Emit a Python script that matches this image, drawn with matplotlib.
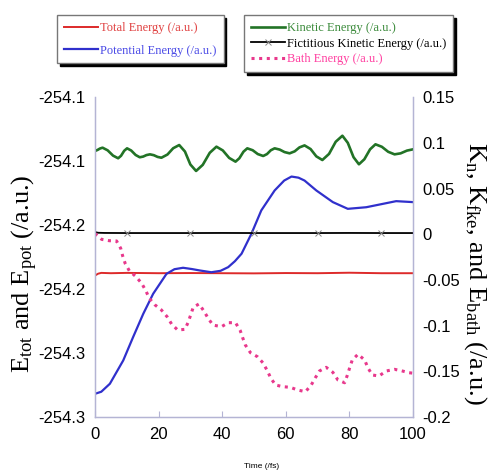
import matplotlib
matplotlib.use('Agg')
import matplotlib.pyplot as plt

plt.rcParams['font.family'] = ['Liberation Sans', 'DejaVu Sans']
plt.rcParams['axes.unicode_minus'] = False
plt.rcParams['mathtext.default'] = 'regular'

# total energy (left axis)
tot_t = [0, 1, 2, 5, 10, 20, 30, 40, 50, 60, 70, 80, 90, 100]
tot_v = [-254.2115, -254.2103, -254.2098, -254.2100, -254.2098, -254.2100, -254.2099,
         -254.2100, -254.2101, -254.2099, -254.2100, -254.2097, -254.2100, -254.2100]

# potential energy (left axis)
pot_t = [0, 2, 4.7, 8.9, 12.0, 15.2, 18.3, 22.5, 25, 27.7, 30.5, 33.0, 36.6, 39.5, 41.9,
         44, 46.1, 49.2, 52.3, 56.5, 59.5, 61.8, 64, 65.9, 69.6, 74.8, 79.5, 85.3, 90, 94.7, 100]
pot_v = [-254.2855, -254.2842, -254.2792, -254.2646, -254.2500, -254.2354, -254.2229,
         -254.2104, -254.2075, -254.2066, -254.2074, -254.2083, -254.2094, -254.2085,
         -254.2062, -254.2025, -254.1978, -254.1853, -254.1707, -254.1582, -254.1520,
         -254.1495, -254.1502, -254.1520, -254.1582, -254.1655, -254.1697, -254.1687,
         -254.1668, -254.1649, -254.1655]

# kinetic energy (right axis)
kin_t = [0, 0.8, 1.6, 2.4, 4.0, 5.7, 7.3, 8.2, 9.2, 10.1, 11.4, 12.8, 14.1, 15.2, 16.2,
         17.3, 18.5, 19.7, 20.9, 22.8, 24.6, 26.5, 28.3, 30.0, 31.8, 33.9, 36.1, 38.2,
         40.2, 42.2, 44.2, 45.4, 46.7, 47.9, 49.6, 51.2, 52.9, 54.1, 55.3, 56.5, 58.1,
         59.6, 61.2, 62.8, 64.3, 65.9, 67.8, 69.6, 71.5, 73.6, 75.7, 77.8, 79.5, 81.3,
         83.0, 84.7, 86.5, 88.2, 90.2, 92.2, 94.2, 96.1, 98.1, 100]
kin_v = [0.0914, 0.0925, 0.0941, 0.0950, 0.0921, 0.0863, 0.0834, 0.0861, 0.0916, 0.0943,
         0.0919, 0.0870, 0.0845, 0.0853, 0.0869, 0.0877, 0.0868, 0.0849, 0.0840, 0.0875,
         0.0944, 0.0979, 0.0908, 0.0766, 0.0695, 0.0762, 0.0894, 0.0961, 0.0920, 0.0838,
         0.0797, 0.0834, 0.0906, 0.0943, 0.0922, 0.0880, 0.0859, 0.0880, 0.0922, 0.0943,
         0.0929, 0.0902, 0.0888, 0.0910, 0.0953, 0.0975, 0.0935, 0.0855, 0.0815, 0.0882,
         0.1015, 0.1081, 0.1003, 0.0846, 0.0768, 0.0823, 0.0932, 0.0987, 0.0960, 0.0905,
         0.0877, 0.0888, 0.0918, 0.0932]

# fictitious kinetic energy (right axis)
fict_t = [0, 1, 3, 10, 20, 30, 40, 50, 60, 70, 80, 90, 100]
fict_v = [0.0025, 0.0018, 0.0016, 0.0015, 0.0015, 0.0015, 0.0016, 0.0015, 0.0015,
          0.0015, 0.0016, 0.0015, 0.0015]

# bath energy (right axis)
bath_t = [0, 2.1, 4.5, 6.8, 8.1, 8.7, 9.5, 10.8, 12.9, 14.7, 16.0, 17.1, 18.8, 20.9, 22.7,
          24.1, 26.0, 28.3, 29.3, 30.1, 30.9, 32.7, 34.2, 35.6, 37.1, 39.8, 41.9, 44.2,
          45.7, 46.4, 47.3, 48.9, 51.1, 52.8, 54.2, 55.3, 56.8, 59.1, 61.4, 63.8, 66.2,
          68.0, 69.3, 70.6, 72.7, 74.8, 76.4, 78.5, 79.3, 80.1, 80.9, 82.7, 84.8, 85.8,
          87.2, 89.3, 91.6, 94.2, 96.3, 98.7, 100]
bath_v = [0.001, -0.0054, -0.0069, -0.0072, -0.0152, -0.0233, -0.0317, -0.0398, -0.0463,
          -0.0536, -0.0617, -0.0700, -0.0770, -0.0828, -0.0902, -0.0982, -0.1047, -0.1040,
          -0.0963, -0.0883, -0.0799, -0.0762, -0.0836, -0.0919, -0.0993, -0.1011, -0.0967,
          -0.0967, -0.1055, -0.1127, -0.1212, -0.1296, -0.1340, -0.1406, -0.1493, -0.1576,
          -0.1650, -0.1668, -0.1675, -0.1705, -0.1723, -0.1650, -0.1570, -0.1496, -0.1456,
          -0.1511, -0.1595, -0.1625, -0.1548, -0.1460, -0.1376, -0.1313, -0.1376, -0.1460,
          -0.1540, -0.1551, -0.1496, -0.1478, -0.1493, -0.1515, -0.152]

x_ticks = [0, 20, 40, 60, 80, 100]
left_ticks = [-254.30, -254.26, -254.22, -254.18, -254.14, -254.10]
right_ticks = [-0.2, -0.15, -0.1, -0.05, 0, 0.05, 0.1, 0.15]

spine_col = '#b4b4d4'
serif = ['Liberation Serif', 'DejaVu Serif']

fig = plt.figure(figsize=(4.97, 4.70), dpi=100)
ax1 = fig.add_axes([0.191, 0.1128, 0.640, 0.6798])
ax2 = ax1.twinx()

l_tot, = ax1.plot(tot_t, tot_v, color='#dd2a2a', lw=1.4)
l_pot, = ax1.plot(pot_t, pot_v, color='#3030cc', lw=1.6, solid_joinstyle='round')
l_kin, = ax2.plot(kin_t, kin_v, color='#227326', lw=1.9, solid_joinstyle='round')
l_fict, = ax2.plot(fict_t, fict_v, color='black', lw=1.3, marker='x', ms=4,
                   mec='#888888', mew=0.7, markevery=[3, 5, 7, 9, 11])
l_bath, = ax2.plot(bath_t, bath_v, color='#e8388c', lw=2.2, linestyle=(0, (1, 1.5)),
                   dash_capstyle='butt')

ax1.set_xlim(0, 100)
ax1.set_ylim(-254.30, -254.10)
ax2.set_ylim(-0.2, 0.15)
ax1.set_xticks(x_ticks)
ax1.set_yticks(left_ticks)
ax1.set_yticklabels(['%.1f' % v for v in left_ticks])
ax2.set_yticks(right_ticks)
ax2.set_yticklabels(['%g' % v for v in right_ticks])

for ax in (ax1, ax2):
    for s in ax.spines.values():
        s.set_color(spine_col)
        s.set_linewidth(0.9)
    ax.spines['top'].set_visible(False)
ax1.tick_params(axis='x', direction='in', length=4, color=spine_col, labelsize=12, pad=7)
ax1.tick_params(axis='y', length=0, labelsize=12, pad=7)
ax2.tick_params(axis='y', length=0, labelsize=12, pad=7)

ax1.set_ylabel('E$_{tot}$ and E$_{pot}$ (/a.u.)', family=serif, fontsize=19)
ax1.yaxis.set_label_coords(-0.172, 0.45)
ax2.set_ylabel('K$_{n}$, K$_{fke}$, and E$_{bath}$ (/a.u.)', family=serif, fontsize=19,
               rotation=-90, va='bottom')
ax2.yaxis.set_label_coords(1.155, 0.45)
fig.text(0.527, 0.0085, 'Time (/fs)', ha='center', va='center', fontsize=6)

shadow = {'color': 'black', 'alpha': 1}
leg1 = fig.legend([l_tot, l_pot], ['Total Energy (/a.u.)', 'Potential Energy (/a.u.)'],
                  loc='upper left', bbox_to_anchor=(0.115, 0.968), prop={'family': serif, 'size': 9},
                  frameon=True, fancybox=False, shadow=shadow, edgecolor='#777777',
                  framealpha=1, labelspacing=0.85, handlelength=2.7, handletextpad=0.2,
                  borderpad=0.55, borderaxespad=0)
leg2 = fig.legend([l_kin, l_fict, l_bath],
                  ['Kinetic Energy (/a.u.)', 'Fictitious Kinetic Energy (/a.u.)', 'Bath Energy (/a.u.)'],
                  loc='upper left', bbox_to_anchor=(0.491, 0.968), prop={'family': serif, 'size': 9},
                  frameon=True, fancybox=False, shadow=shadow, edgecolor='#777777',
                  framealpha=1, labelspacing=0.3, handlelength=2.7, handletextpad=0.2,
                  borderpad=0.55, borderaxespad=0)
for leg, cols in ((leg1, ['#e04040', '#4a4ae6']), (leg2, ['#3a8a3a', 'black', '#ff3fa0'])):
    leg.get_frame().set_linewidth(1.0)
    for txt, c in zip(leg.get_texts(), cols):
        txt.set_color(c)

fig.savefig('out.png', dpi=100)
